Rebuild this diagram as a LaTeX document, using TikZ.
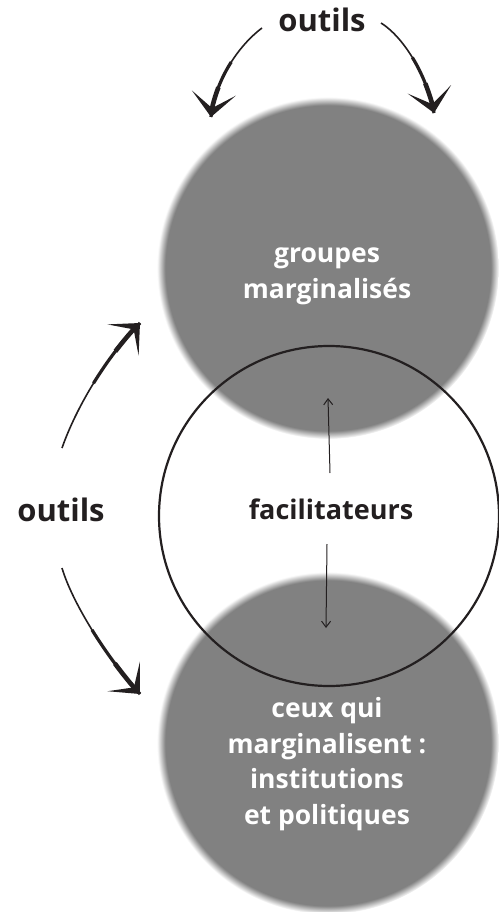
\documentclass[tikz,border=0pt]{standalone}
\usepackage{fontspec}
\setmainfont{Open Sans}
\usetikzlibrary{arrows.meta,calc}
\definecolor{ink}{HTML}{231F20}
\definecolor{disc}{HTML}{818181}
\pgfdeclareradialshading{softdisc}{\pgfpoint{0bp}{0bp}}{color(0bp)=(disc); color(23.8bp)=(disc); color(25bp)=(white); color(50bp)=(white)}
\newcommand\toolarrow[4]{%
  \draw[ink, line width=1.6pt] (#1) .. controls (#2) and (#3) .. (#4);
  \draw[ink, line width=3.2pt] ($0.125*(#1)+0.375*(#2)+0.375*(#3)+0.125*(#4)$)
     .. controls ($0.25*(#2)+0.5*(#3)+0.25*(#4)$) and ($0.5*(#3)+0.5*(#4)$) .. (#4);
  \draw[ink, line width=4.6pt, -{Stealth[length=24pt,width=44pt,inset=15pt]}]
     ($0.015625*(#1)+0.140625*(#2)+0.421875*(#3)+0.421875*(#4)$)
     .. controls ($0.0625*(#2)+0.375*(#3)+0.5625*(#4)$) and ($0.25*(#3)+0.75*(#4)$) .. (#4);
}
\begin{document}
\begin{tikzpicture}[x=1pt,y=-1pt,
  lbl/.style={font=\bfseries\fontsize{27}{35}\selectfont, text=ink, inner sep=0pt},
  big/.style={lbl, font=\bfseries\fontsize{31}{35}\selectfont},
  inlbl/.style={lbl, font=\bfseries\fontsize{26.5}{35.5}\selectfont, text=white, align=center},
  disk/.style={circle, inner sep=0pt, minimum size=342pt, shading=softdisc},
  ring/.style={circle, inner sep=0pt, minimum size=340pt, draw=ink, line width=2.2pt},
  thinarrow/.style={ink, line width=1pt, -{Straight Barb[length=6pt,width=9pt]}}]
\useasboundingbox (0,0) rectangle (498,912);
% discs
\node[disk] (top) at (328,268) {};
\node[disk] (bot) at (328,743) {};
\node[ring] (fac) at (329,516) {};
% labels (base = baseline of last line)
\node[inlbl, anchor=base] (topt) at (327,298) {groupes\\marginalisés};
\node[inlbl, anchor=base] (bott) at (327,824) {ceux qui\\marginalisent :\\institutions\\et politiques};
\node[lbl, anchor=base] (facl) at (331,519) {facilitateurs};
\node[big, anchor=base] (otop) at (322,32) {outils};
\node[big, anchor=base] (oleft) at (61,521) {outils};
% arrow ends and controls
\coordinate (tl0) at (262,28);  \coordinate (tlA) at (243,42); \coordinate (tlB) at (216,75); \coordinate (tl1) at (211,117);
\coordinate (tr0) at (381,23);  \coordinate (trA) at (402,36); \coordinate (trB) at (426,72); \coordinate (tr1) at (434,113);
\coordinate (lu0) at (62,448);  \coordinate (luA) at (76,408); \coordinate (luB) at (106,357); \coordinate (lu1) at (140,323);
\coordinate (ld0) at (62,568);  \coordinate (ldA) at (72,602); \coordinate (ldB) at (106,657); \coordinate (ld1) at (140,694);
\coordinate (fu0) at (330,473); \coordinate (fu1) at (328,398);
\coordinate (fd0) at (327,544); \coordinate (fd1) at (326,628);
\toolarrow{tl0}{tlA}{tlB}{tl1}
\toolarrow{tr0}{trA}{trB}{tr1}
\toolarrow{lu0}{luA}{luB}{lu1}
\toolarrow{ld0}{ldA}{ldB}{ld1}
\draw[thinarrow] (fu0) -- (fu1);
\draw[thinarrow] (fd0) -- (fd1);
\end{tikzpicture}
\end{document}
